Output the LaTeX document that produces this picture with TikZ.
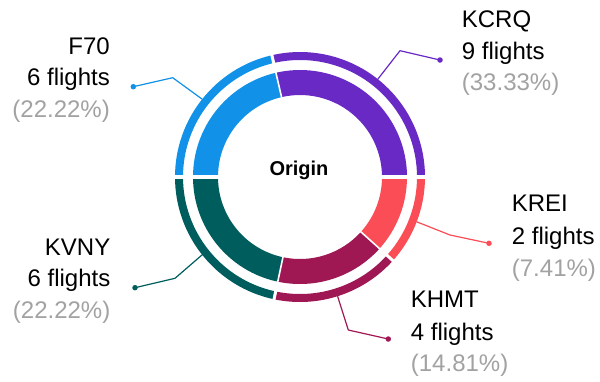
\documentclass[tikz,border=0pt]{standalone}
\usepackage{fontspec}
\setmainfont{Liberation Sans}
\definecolor{cF}{HTML}{1192E8}
\definecolor{cK}{HTML}{6929C4}
\definecolor{cR}{HTML}{FA4D56}
\definecolor{cH}{HTML}{9F1853}
\definecolor{cV}{HTML}{005D5D}
\definecolor{pct}{HTML}{A2A2A2}
\newcommand\donutseg[5]{%
  \fill[#1] (#2:#4) arc[start angle=#2, end angle=#3, radius=#4] -- (#3:#5) arc[start angle=#3, end angle=#2, radius=#5] -- cycle;}
\begin{document}
\begin{tikzpicture}[x=1pt,y=1pt,
  lbl/.style={font=\fontsize{24}{24}\selectfont, inner sep=0pt},
  pctl/.style={lbl, text=pct},
  dotn/.style={circle, fill=#1, inner sep=0pt, minimum size=5.5pt},
  lead/.style={line width=1.2pt, line join=round},
  sepin/.style={white, line width=1.6pt},
  sepout/.style={white, line width=3pt}]
\useasboundingbox (0,0) rectangle (600,-381);
\fill[white] (0,0) rectangle (600,-381);
\begin{scope}[shift={(300,-177)}]
  % inner ring
  \donutseg{cK}{103}{0}{82}{107}
  \donutseg{cR}{0}{-42}{82}{107}
  \donutseg{cH}{-42}{-102}{82}{107}
  \donutseg{cV}{-102}{-180}{82}{107}
  \donutseg{cF}{180}{103}{82}{107}
  % outer ring
  \donutseg{cK}{103}{0}{117}{125}
  \donutseg{cR}{0}{-42}{117}{125}
  \donutseg{cH}{-42}{-102}{117}{125}
  \donutseg{cV}{-102}{-180}{117}{125}
  \donutseg{cF}{180}{103}{117}{125}
  % separators
  \foreach \a in {103,-42,-102} {
    \draw[sepin] (\a:80) -- (\a:109);
    \draw[sepout] (\a:115) -- (\a:127);
  }
  \draw[white, line width=3.5pt] (-130,0) -- (130,0);
  % leader start points
  \coordinate (sF) at (141.5:125);
  \coordinate (sK) at (51.5:125);
  \coordinate (sR) at (-21:125);
  \coordinate (sH) at (-72.5:125);
  \coordinate (sV) at (-141.5:125);
\end{scope}
\node[font=\fontsize{20}{20}\selectfont\bfseries, inner sep=0pt, anchor=base] (title) at (299,-175) {Origin};
% bends and dots
\coordinate (bF) at (172.7,-77.7);
\coordinate (bK) at (400,-50.7);
\coordinate (bR) at (450,-235);
\coordinate (bH) at (348.3,-330);
\coordinate (bV) at (175,-278.3);
\node[dotn=cF] (dF) at (133.3,-86.7) {};
\node[dotn=cK] (dK) at (440,-60) {};
\node[dotn=cR] (dR) at (489,-243.3) {};
\node[dotn=cH] (dH) at (388.3,-339) {};
\node[dotn=cV] (dV) at (135,-287.7) {};
\draw[lead, cF] (sF) -- (bF) -- (dF.center);
\draw[lead, cK] (sK) -- (bK) -- (dK.center);
\draw[lead, cR] (sR) -- (bR) -- (dR.center);
\draw[lead, cH] (sH) -- (bH) -- (dH.center);
\draw[lead, cV] (sV) -- (bV) -- (dV.center);
% labels
\node[lbl, anchor=base east] (tF1) at (110,-54) {F70};
\node[lbl, anchor=base east] (tF2) at (110,-85.7) {6 flights};
\node[pctl, anchor=base east] (tF3) at (110,-117) {(22.22\%)};
\node[lbl, anchor=base west] (tK1) at (461.7,-27.3) {KCRQ};
\node[lbl, anchor=base west] (tK2) at (461.7,-59.3) {9 flights};
\node[pctl, anchor=base west] (tK3) at (461.7,-90.7) {(33.33\%)};
\node[lbl, anchor=base west] (tR1) at (511.7,-211.7) {KREI};
\node[lbl, anchor=base west] (tR2) at (511.7,-244) {2 flights};
\node[pctl, anchor=base west] (tR3) at (511.7,-276) {(7.41\%)};
\node[lbl, anchor=base west] (tH1) at (410.7,-307.3) {KHMT};
\node[lbl, anchor=base west] (tH2) at (410.7,-340) {4 flights};
\node[pctl, anchor=base west] (tH3) at (410.7,-371.7) {(14.81\%)};
\node[lbl, anchor=base east] (tV1) at (110.5,-255) {KVNY};
\node[lbl, anchor=base east] (tV2) at (110.5,-286) {6 flights};
\node[pctl, anchor=base east] (tV3) at (110.5,-318) {(22.22\%)};
\end{tikzpicture}
\end{document}
